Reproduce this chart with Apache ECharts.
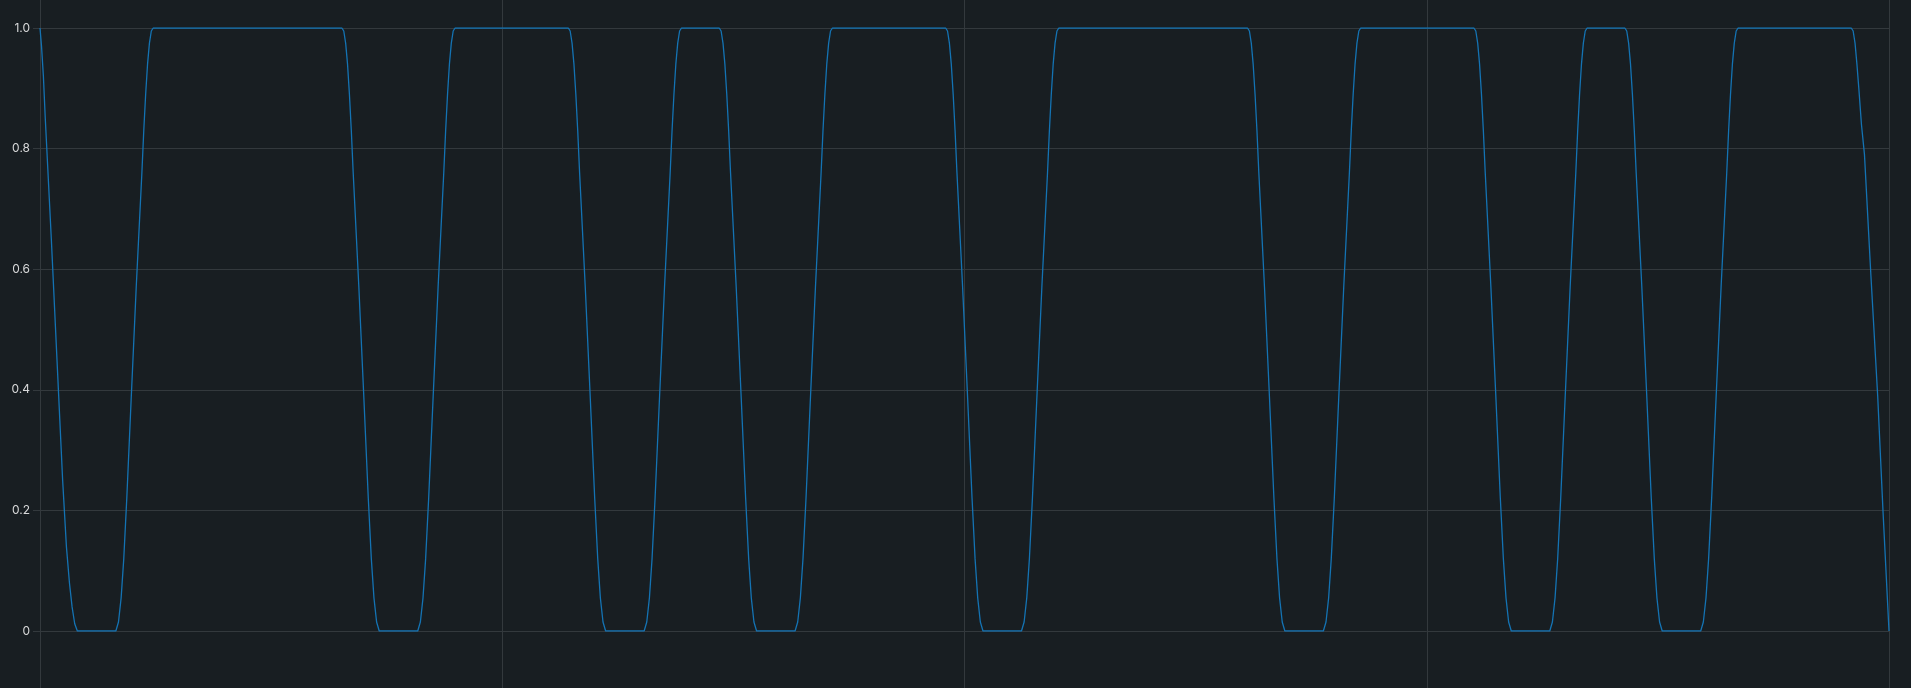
<!DOCTYPE html>
<html>
<head>
<meta charset="utf-8">
<script src="https://cdn.jsdelivr.net/npm/echarts@6/dist/echarts.min.js"></script>
<style>
html,body{margin:0;padding:0;background:#181e22;}
#c{width:1911px;height:688px;}
</style>
</head>
<body>
<div id="c"></div>
<script>
// x range (time units) and y tick labels
const xMin = 0;
const xMax = 49;
const xSplit = 12.25;
const yTicks = ['0', '0.2', '0.4', '0.6', '0.8', '1.0'];

// signal samples [x, value]
const signal = [
  [0,1],[0.04,0.97],[0.09,0.92],[0.14,0.85],[0.3,0.65],[0.45,0.45],[0.6,0.25],[0.7,0.14],[0.78,0.08],[0.85,0.04],[0.92,0.012],[0.99,0],
  [2.01,0],[2.08,0.015],[2.15,0.055],[2.22,0.12],[2.3,0.22],[2.42,0.39],[2.55,0.57],[2.7,0.76],[2.75,0.83],[2.8,0.89],[2.85,0.94],[2.9,0.975],[2.95,0.995],[3,1],
  [8,1],[8.05,0.995],[8.1,0.975],[8.15,0.94],[8.2,0.89],[8.25,0.83],[8.3,0.76],[8.45,0.57],[8.58,0.39],[8.7,0.22],[8.78,0.12],[8.85,0.055],[8.92,0.015],[8.99,0],
  [10.01,0],[10.08,0.015],[10.15,0.055],[10.22,0.12],[10.3,0.22],[10.42,0.39],[10.55,0.57],[10.7,0.76],[10.75,0.83],[10.8,0.89],[10.85,0.94],[10.9,0.975],[10.95,0.995],[11,1],
  [14,1],[14.05,0.995],[14.1,0.975],[14.15,0.94],[14.2,0.89],[14.25,0.83],[14.3,0.76],[14.45,0.57],[14.58,0.39],[14.7,0.22],[14.78,0.12],[14.85,0.055],[14.92,0.015],[14.99,0],
  [16.01,0],[16.08,0.015],[16.15,0.055],[16.22,0.12],[16.3,0.22],[16.42,0.39],[16.55,0.57],[16.7,0.76],[16.75,0.83],[16.8,0.89],[16.85,0.94],[16.9,0.975],[16.95,0.995],[17,1],
  [18,1],[18.05,0.995],[18.1,0.975],[18.15,0.94],[18.2,0.89],[18.25,0.83],[18.3,0.76],[18.45,0.57],[18.58,0.39],[18.7,0.22],[18.78,0.12],[18.85,0.055],[18.92,0.015],[18.99,0],
  [20.01,0],[20.08,0.015],[20.15,0.055],[20.22,0.12],[20.3,0.22],[20.42,0.39],[20.55,0.57],[20.7,0.76],[20.75,0.83],[20.8,0.89],[20.85,0.94],[20.9,0.975],[20.95,0.995],[21,1],
  [24,1],[24.05,0.995],[24.1,0.975],[24.15,0.94],[24.2,0.89],[24.25,0.83],[24.3,0.76],[24.45,0.57],[24.58,0.39],[24.7,0.22],[24.78,0.12],[24.85,0.055],[24.92,0.015],[24.99,0],
  [26.01,0],[26.08,0.015],[26.15,0.055],[26.22,0.12],[26.3,0.22],[26.42,0.39],[26.55,0.57],[26.7,0.76],[26.75,0.83],[26.8,0.89],[26.85,0.94],[26.9,0.975],[26.95,0.995],[27,1],
  [32,1],[32.05,0.995],[32.1,0.975],[32.15,0.94],[32.2,0.89],[32.25,0.83],[32.3,0.76],[32.45,0.57],[32.58,0.39],[32.7,0.22],[32.78,0.12],[32.85,0.055],[32.92,0.015],[32.99,0],
  [34.01,0],[34.08,0.015],[34.15,0.055],[34.22,0.12],[34.3,0.22],[34.42,0.39],[34.55,0.57],[34.7,0.76],[34.75,0.83],[34.8,0.89],[34.85,0.94],[34.9,0.975],[34.95,0.995],[35,1],
  [38,1],[38.05,0.995],[38.1,0.975],[38.15,0.94],[38.2,0.89],[38.25,0.83],[38.3,0.76],[38.45,0.57],[38.58,0.39],[38.7,0.22],[38.78,0.12],[38.85,0.055],[38.92,0.015],[38.99,0],
  [40.01,0],[40.08,0.015],[40.15,0.055],[40.22,0.12],[40.3,0.22],[40.42,0.39],[40.55,0.57],[40.7,0.76],[40.75,0.83],[40.8,0.89],[40.85,0.94],[40.9,0.975],[40.95,0.995],[41,1],
  [42,1],[42.05,0.995],[42.1,0.975],[42.15,0.94],[42.2,0.89],[42.25,0.83],[42.3,0.76],[42.45,0.57],[42.58,0.39],[42.7,0.22],[42.78,0.12],[42.85,0.055],[42.92,0.015],[42.99,0],
  [44.01,0],[44.08,0.015],[44.15,0.055],[44.22,0.12],[44.3,0.22],[44.42,0.39],[44.55,0.57],[44.7,0.76],[44.75,0.83],[44.8,0.89],[44.85,0.94],[44.9,0.975],[44.95,0.995],[45,1],
  [48,1],[48.05,0.995],[48.1,0.975],[48.15,0.94],[48.2,0.9],[48.27,0.84],[48.35,0.79],[48.52,0.59],[48.7,0.39],[48.84,0.2],[49,0]
];

const gridColor = '#33393d';
const labelColor = '#d8d9da';

const chart = echarts.init(document.getElementById('c'), null, {renderer: 'canvas'});
chart.setOption({
  backgroundColor: '#181e22',
  animation: false,
  grid: [
    {left: 40, right: 22, top: 0, bottom: 0},
    {left: 40, right: 22, top: 28, bottom: 57}
  ],
  xAxis: [
    {
      type: 'value', gridIndex: 0, min: xMin, max: xMax, interval: xSplit,
      axisLine: {show: false}, axisTick: {show: false}, axisLabel: {show: false},
      splitLine: {show: true, lineStyle: {color: gridColor, width: 1}}
    },
    {
      type: 'value', gridIndex: 1, min: xMin, max: xMax,
      axisLine: {show: false}, axisTick: {show: false}, axisLabel: {show: false},
      splitLine: {show: false}
    }
  ],
  yAxis: [
    {
      type: 'value', gridIndex: 0, min: 0, max: 1, show: false,
      splitLine: {show: false}
    },
    {
      type: 'value', gridIndex: 1, min: 0, max: 1, interval: 0.2,
      axisLine: {show: false},
      axisTick: {show: true, length: 7, lineStyle: {color: gridColor}},
      axisLabel: {
        color: labelColor, fontFamily: 'Inter', fontSize: 12, margin: 10,
        formatter: function (v) { return yTicks[Math.round(v / 0.2)]; }
      },
      splitLine: {show: true, lineStyle: {color: gridColor, width: 1}}
    }
  ],
  series: [{
    type: 'line',
    xAxisIndex: 1, yAxisIndex: 1,
    data: signal,
    showSymbol: false,
    symbol: 'none',
    lineStyle: {color: '#1473b3', width: 1.3},
    z: 5
  }]
});
</script>
</body>
</html>
